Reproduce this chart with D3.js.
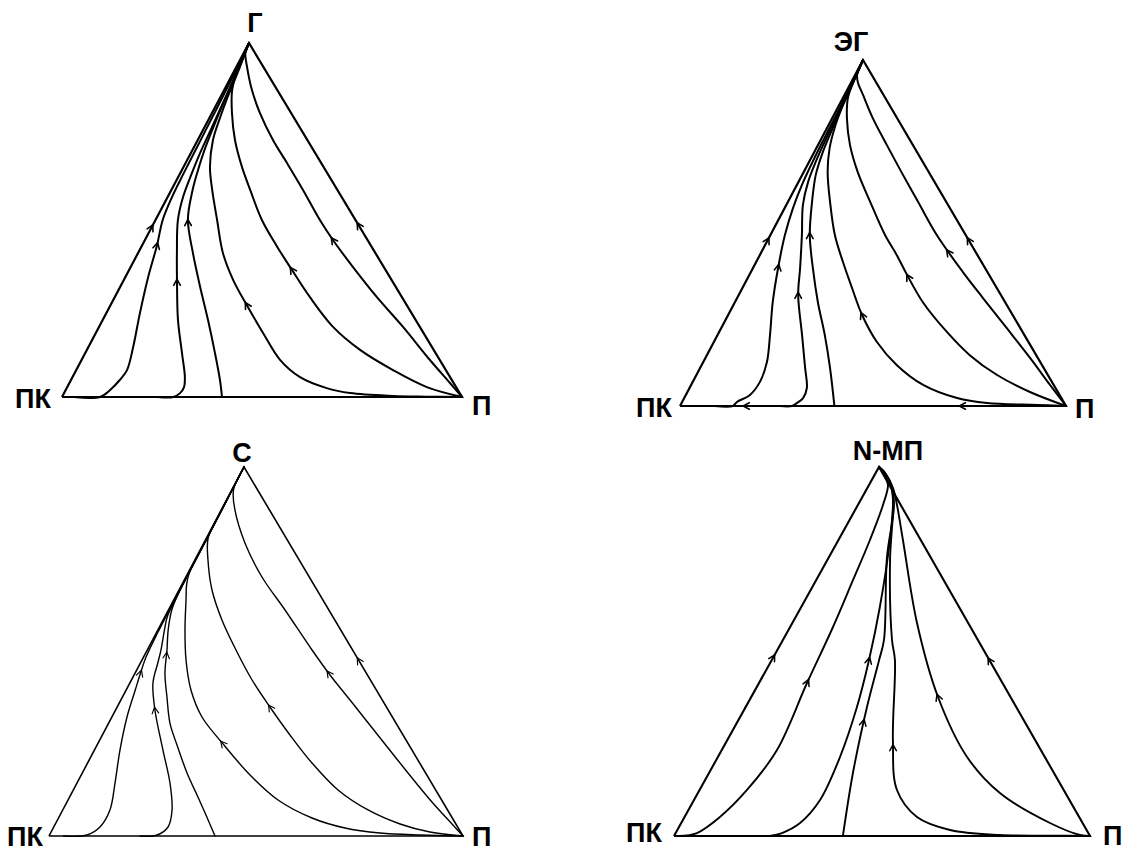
<!DOCTYPE html>
<html><head><meta charset="utf-8">
<script src="https://cdn.jsdelivr.net/npm/d3@7"></script>
<style>html,body{margin:0;padding:0;background:#fff}svg{display:block}</style>
</head><body><svg id="c" width="1128" height="853"></svg>
<script>
// ---------- DATA (compositions: [a = apex component fraction, p = "П" fraction]) ----------
const topLabels   = ["Г", "ЭГ", "С", "N-МП"];
const leftLabels  = ["ПК", "ПК", "ПК", "ПК"];
const rightLabels = ["П", "П", "П", "П"];

// Panel 1: ПК – П – Г
const curvesG = [
  [[0,0.03],[0,0.095],[0.02,0.111],[0.048,0.122],[0.076,0.127],[0.141,0.112],[0.237,0.084],[0.339,0.057],[0.429,0.037],[0.5,0.018],[0.565,0.011],[0.621,0.009],[0.678,0.008],[0.746,0.007],[0.819,0.006],[0.901,0.004],[1,0]],
  [[0,0.24],[0,0.278],[0.011,0.29],[0.028,0.292],[0.056,0.281],[0.124,0.242],[0.218,0.188],[0.322,0.137],[0.407,0.097],[0.5,0.056],[0.565,0.0385],[0.633,0.029],[0.689,0.023],[0.763,0.0185],[0.845,0.013],[0.932,0.007],[1,0]],
  [[0,0.4],[0.048,0.3725],[0.124,0.3245],[0.218,0.263],[0.311,0.2],[0.407,0.137],[0.5,0.081],[0.576,0.0555],[0.633,0.042],[0.698,0.03],[0.782,0.02],[0.859,0.013],[0.938,0.006],[1,0]],
  [[0,1],[0.001,0.91],[0.003,0.826],[0.011,0.715],[0.025,0.65],[0.056,0.569],[0.105,0.496],[0.181,0.418],[0.254,0.346],[0.331,0.273],[0.407,0.212],[0.5,0.154],[0.585,0.102],[0.65,0.066],[0.726,0.038],[0.791,0.026],[0.847,0.018],[0.932,0.009],[1,0]],
  [[0,1],[0.028,0.899],[0.076,0.792],[0.133,0.683],[0.198,0.585],[0.282,0.488],[0.359,0.407],[0.424,0.34],[0.5,0.266],[0.585,0.197],[0.65,0.146],[0.726,0.093],[0.802,0.05],[0.867,0.02],[0.924,0.007],[1,0]],
  [[0,1],[0.0395,0.9515],[0.1045,0.871],[0.198,0.76],[0.282,0.6555],[0.367,0.556],[0.4435,0.47],[0.5,0.411],[0.585,0.329],[0.661,0.2535],[0.726,0.188],[0.802,0.12],[0.867,0.0695],[0.932,0.027],[0.972,0.004],[1,0]]
];
const arrowsG = [0.429, 0.325, 0.494, 0.26, 0.359, 0.4435];
const edgeArrowsG = [0.48, 0.486];
const baseArrowsG = [];

// Panel 2: ПК – П – ЭГ
const curvesEG = [
  [[0,0.09],[0,0.137],[0.0116,0.142],[0.032,0.166],[0.069,0.174],[0.127,0.165],[0.205,0.136],[0.3,0.098],[0.399,0.065],[0.494,0.0376],[0.572,0.0215],[0.639,0.013],[0.705,0.009],[0.775,0.007],[0.841,0.006],[0.92,0.004],[1,0]],
  [[0,0.259],[0,0.29],[0.0087,0.299],[0.023,0.308],[0.052,0.304],[0.11,0.272],[0.205,0.219],[0.321,0.154],[0.399,0.122],[0.494,0.0816],[0.581,0.043],[0.647,0.025],[0.717,0.016],[0.775,0.012],[0.841,0.009],[0.92,0.005],[1,0]],
  [[0,0.4],[0.11,0.3365],[0.205,0.278],[0.3,0.215],[0.399,0.155],[0.494,0.102],[0.59,0.0624],[0.668,0.035],[0.734,0.022],[0.803,0.015],[0.861,0.01],[0.93,0.005],[1,0]],
  [[0,1],[0.003,0.924],[0.0087,0.791],[0.023,0.707],[0.061,0.601],[0.118,0.506],[0.185,0.4225],[0.263,0.347],[0.341,0.284],[0.416,0.225],[0.494,0.167],[0.59,0.109],[0.676,0.062],[0.746,0.034],[0.812,0.018],[0.87,0.01],[0.94,0.005],[1,0]],
  [[0,1],[0.0405,0.8875],[0.0896,0.779],[0.147,0.681],[0.214,0.59],[0.3,0.487],[0.379,0.4085],[0.436,0.355],[0.494,0.297],[0.59,0.213],[0.676,0.14],[0.754,0.083],[0.832,0.038],[0.89,0.013],[0.948,0.004],[1,0]],
  [[0,1],[0.0607,0.93],[0.139,0.841],[0.225,0.74],[0.312,0.637],[0.387,0.5495],[0.494,0.431],[0.59,0.337],[0.668,0.261],[0.754,0.1785],[0.832,0.105],[0.899,0.048],[0.936,0.017],[0.957,0.005],[1,0]]
];
const arrowsEG = [0.402, 0.321, 0.494, 0.263, 0.373, 0.445];
const edgeArrowsEG = [0.48, 0.48];
const baseArrowsEG = [0.17, 0.73];

// Panel 3: ПК – П – С
const curvesS = [
  [[0,0.035],[0.0027,0.0906],[0.0244,0.1116],[0.0705,0.114],[0.1436,0.0918],[0.233,0.0617],[0.3225,0.0365],[0.3957,0.022],[0.4417,0.013],[0.485,0.006],[0.55,0.003],[0.75,0.002],[1,0]],
  [[0,0.22],[0.0027,0.26],[0.0244,0.276],[0.0705,0.264],[0.1436,0.2246],[0.233,0.1655],[0.3415,0.095],[0.4146,0.0558],[0.4688,0.042],[0.504,0.033],[0.558,0.016],[0.5935,0.006],[0.65,0.003],[0.8,0.002],[1,0]],
  [[0,0.401],[0.0515,0.357],[0.1057,0.31],[0.1707,0.253],[0.2466,0.193],[0.306,0.148],[0.3767,0.1075],[0.4417,0.072],[0.504,0.0476],[0.558,0.025],[0.6125,0.008],[0.66,0.003],[0.8,0.002],[1,0]],
  [[0,1],[0.0027,0.895],[0.0081,0.7957],[0.0217,0.7048],[0.0488,0.6123],[0.0976,0.5072],[0.1653,0.4077],[0.2466,0.3065],[0.3225,0.2176],[0.3957,0.1565],[0.477,0.1063],[0.5583,0.0655],[0.6396,0.0297],[0.68,0.012],[0.7127,0.003],[0.8,0.001],[1,0]],
  [[0,1],[0.0108,0.9152],[0.0325,0.8326],[0.0705,0.7374],[0.1247,0.6394],[0.1978,0.542],[0.2737,0.4531],[0.3496,0.369],[0.4228,0.2913],[0.504,0.2143],[0.5854,0.142],[0.6667,0.0797],[0.748,0.0317],[0.8076,0.004],[0.87,0.001],[1,0]],
  [[0,1],[0.0325,0.9582],[0.0921,0.8816],[0.1843,0.7707],[0.29,0.646],[0.3686,0.5534],[0.4363,0.4732],[0.504,0.398],[0.6125,0.2816],[0.7019,0.1838],[0.794,0.0993],[0.8835,0.033],[0.9377,0.004],[1,0]]
];
const arrowsS = [0.4417, 0.3415, 0.4905, 0.252, 0.3496, 0.4417];
const edgeArrowsS = [null, 0.477];
const baseArrowsS = [];

// Panel 4: ПК – П – N-МП
const curvesNMP = [
  [[0,0.012],[0.0081,0.0512],[0.0515,0.085],[0.1247,0.114],[0.233,0.1327],[0.4146,0.1154],[0.5664,0.1031],[0.6938,0.0885],[0.8022,0.0757],[0.897,0.0603],[0.951,0.0457],[0.981,0.0214],[1,0]],
  [[0,0.23],[0.0081,0.2555],[0.0352,0.2856],[0.0976,0.303],[0.2141,0.2935],[0.3496,0.2675],[0.477,0.2337],[0.6206,0.189],[0.8022,0.1238],[0.9106,0.0777],[0.951,0.0529],[0.9837,0.0224],[1,0]],
  [[0,0.406],[0.1707,0.346],[0.3496,0.2916],[0.477,0.258],[0.5312,0.243],[0.7561,0.1394],[0.897,0.0868],[0.951,0.054],[0.9837,0.0224],[1,0]],
  [[0,1],[0.001,0.9],[0.0027,0.782],[0.0163,0.6555],[0.0515,0.5587],[0.1247,0.4745],[0.2602,0.398],[0.477,0.296],[0.5312,0.2623],[0.748,0.1507],[0.8835,0.091],[0.9377,0.062],[0.9837,0.0224],[1,0]],
  [[0,1],[0.0027,0.9745],[0.0352,0.8865],[0.1165,0.726],[0.2141,0.599],[0.3767,0.449],[0.5772,0.2997],[0.8022,0.155],[0.897,0.094],[0.9431,0.0617],[0.9837,0.0224],[1,0]]
];
const arrowsNMP = [0.417, 0.477, 0.309, 0.241, 0.3767];
const edgeArrowsNMP = [0.485, 0.477];
const baseArrowsNMP = [];

// ---------- LAYOUT ----------
const panels = [
  {L:[62,397],  R:[462,397],  A:[249,43],  sw:2.0, curves:curvesG,   arrows:arrowsG,   edge:edgeArrowsG,   base:baseArrowsG,
   top:[255,32],  left:[51,408],  right:[472,415]},
  {L:[680,406], R:[1066,406], A:[863,60],  sw:2.0, curves:curvesEG,  arrows:arrowsEG,  edge:edgeArrowsEG,  base:baseArrowsEG,
   top:[851,51],  left:[672,417], right:[1075,418]},
  {L:[49,836],  R:[463,836],  A:[244,467], sw:1.4, curves:curvesS,   arrows:arrowsS,   edge:edgeArrowsS,   base:baseArrowsS,
   top:[242,462], left:[43,846],  right:[472,846]},
  {L:[674,836], R:[1090,836], A:[879,467], sw:1.9, curves:curvesNMP, arrows:arrowsNMP, edge:edgeArrowsNMP, base:baseArrowsNMP,
   top:[888,460], left:[662,842], right:[1103,845]}
];

const svg = d3.select("#c");
const FONT = "'Liberation Sans', Arial, sans-serif";

function chevron(g, x, y, ux, uy, sw) {
  const len = 7, ang = 28 * Math.PI / 180;
  const tx = x + ux * 2.5, ty = y + uy * 2.5;
  const rot = (vx, vy, t) => [vx * Math.cos(t) - vy * Math.sin(t), vx * Math.sin(t) + vy * Math.cos(t)];
  const w1 = rot(-ux, -uy, ang), w2 = rot(-ux, -uy, -ang);
  g.append("path")
    .attr("d", `M${tx + w1[0]*len},${ty + w1[1]*len}L${tx},${ty}L${tx + w2[0]*len},${ty + w2[1]*len}`)
    .attr("fill", "none").attr("stroke", "#000").attr("stroke-width", sw)
    .attr("stroke-linejoin", "miter").attr("stroke-linecap", "round");
}

panels.forEach((P, i) => {
  const g = svg.append("g");
  const xs = d3.scaleLinear().domain([0, 1]).range([P.L[0], P.R[0]]);
  const ys = d3.scaleLinear().domain([0, 1]).range([P.L[1], P.A[1]]);
  const skew = (P.A[0] - P.L[0]) / (P.R[0] - P.L[0]);
  const px = d => xs(d[1] + d[0] * skew), py = d => ys(d[0]);

  const line = d3.line().x(px).y(py).curve(d3.curveCatmullRom.alpha(0.5));
  const straight = d3.line().x(px).y(py);

  // triangle sides
  const tri = [[0,0],[0,1],[1,0],[0,0]];
  g.append("path").attr("d", straight(tri)).attr("fill", "none")
    .attr("stroke", "#000").attr("stroke-width", P.sw + 0.2).attr("stroke-linejoin", "miter");

  // residue curves
  const paths = P.curves.map(c => g.append("path").attr("d", line(c))
    .attr("fill", "none").attr("stroke", "#000").attr("stroke-width", P.sw)
    .attr("stroke-linejoin", "round").attr("stroke-linecap", "round"));

  // arrows on curves (located where the curve reaches composition a)
  P.arrows.forEach((a, k) => {
    if (a == null) return;
    const node = paths[k].node();
    const L = node.getTotalLength();
    const ty = ys(a);
    let s = 0;
    for (let l = 0; l <= L; l += 0.5) {
      if (node.getPointAtLength(l).y <= ty) { s = l; break; }
    }
    const p0 = node.getPointAtLength(Math.max(0, s - 2)), p1 = node.getPointAtLength(Math.min(L, s + 2));
    const dx = p1.x - p0.x, dy = p1.y - p0.y, n = Math.hypot(dx, dy) || 1;
    const pt = node.getPointAtLength(s);
    chevron(g, pt.x, pt.y, dx / n, dy / n, P.sw * 0.8);
  });

  // arrows on the sides (towards the apex)
  P.edge.forEach((a, k) => {
    if (a == null) return;
    const from = k === 0 ? [0, 0] : [0, 1];
    const pt = k === 0 ? [a, 0] : [a, 1 - a];
    const dx = P.A[0] - px(from), dy = P.A[1] - py(from), n = Math.hypot(dx, dy);
    chevron(g, px(pt), py(pt), dx / n, dy / n, P.sw * 0.8);
  });
  // arrows on the base (towards ПК)
  P.base.forEach(p => {
    chevron(g, px([0, p]), py([0, p]), -1, 0, P.sw * 0.8);
  });

  // vertex labels
  const lab = (pos, txt, anchor) => g.append("text").attr("x", pos[0]).attr("y", pos[1])
    .attr("text-anchor", anchor).attr("font-family", FONT).attr("font-weight", "bold")
    .attr("font-size", 27).attr("fill", "#000").text(txt);
  lab(P.top, topLabels[i], "middle");
  lab(P.left, leftLabels[i], "end");
  lab(P.right, rightLabels[i], "start");
});
</script></body></html>
